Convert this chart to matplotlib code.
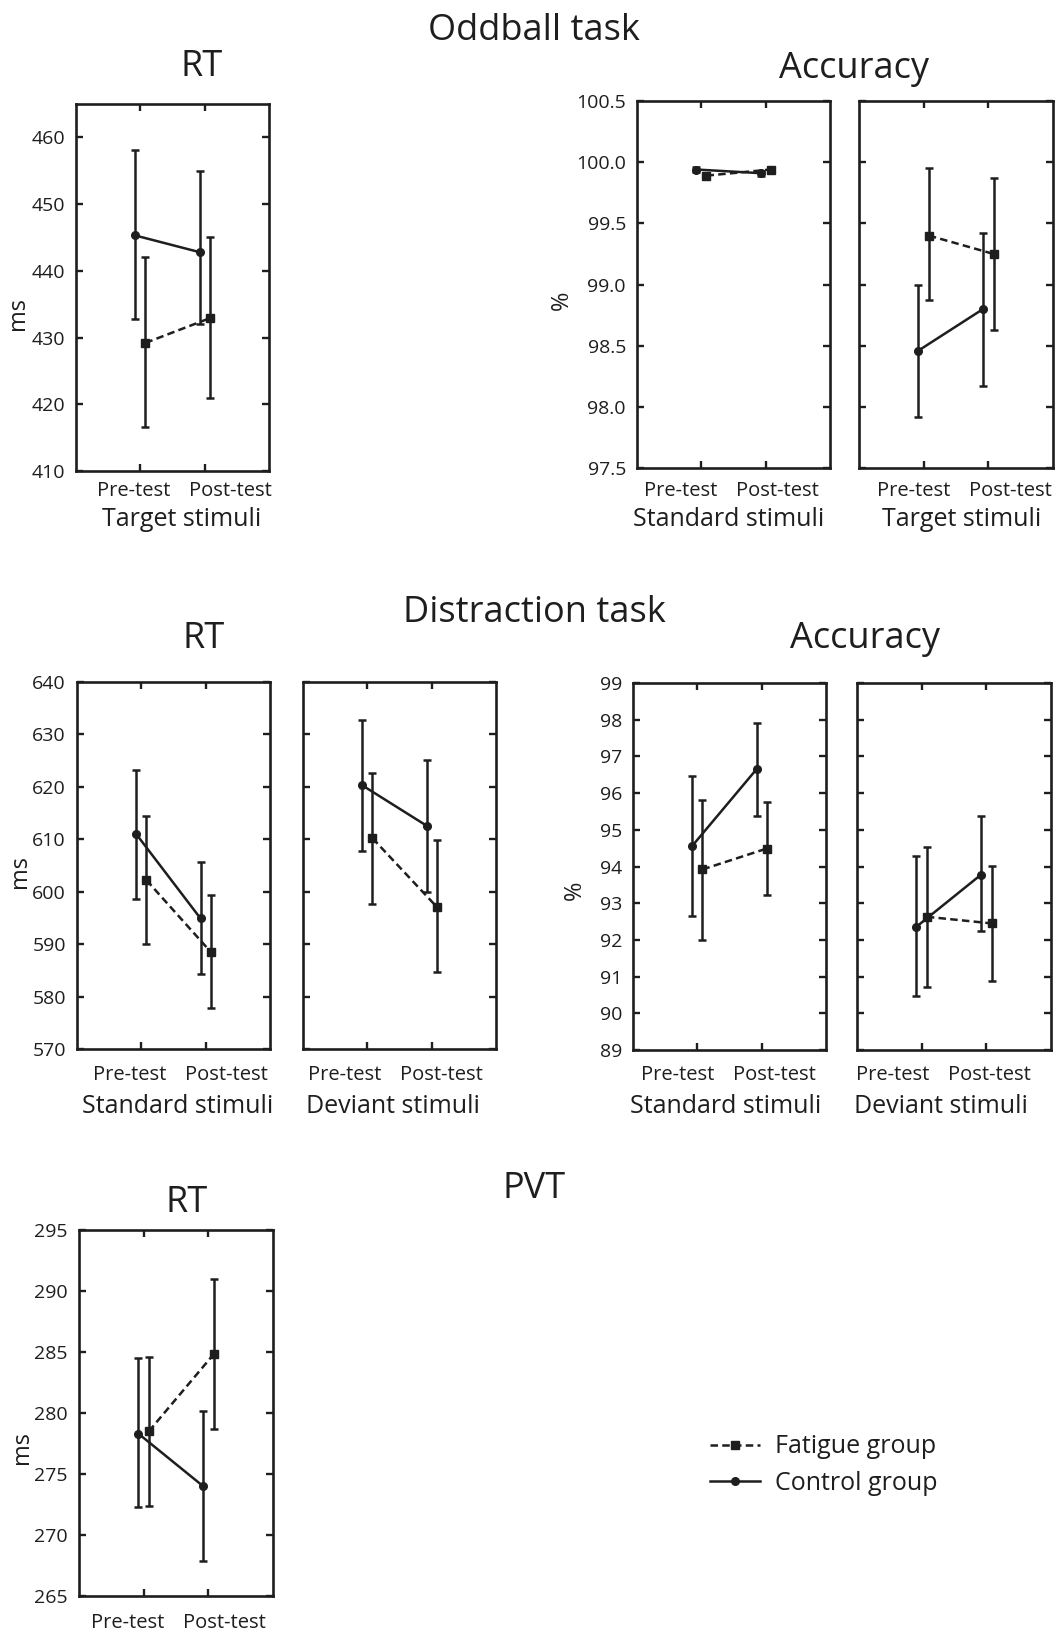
import numpy as np
import matplotlib.pyplot as plt
from matplotlib.lines import Line2D
from matplotlib.ticker import FormatStrFormatter

plt.rcParams['font.family'] = ['Open Sans', 'DejaVu Sans']

phases = ['Pre-test', 'Post-test']

# Oddball task - RT, target stimuli
odd_rt_fat = [429.2, 432.9]
odd_rt_fat_lo = [416.6, 421.0]
odd_rt_fat_hi = [442.1, 445.0]
odd_rt_con = [445.3, 442.8]
odd_rt_con_lo = [432.8, 432.0]
odd_rt_con_hi = [458.1, 454.9]

# Oddball task - accuracy, standard stimuli
odd_acc_std_fat = [99.89, 99.94]
odd_acc_std_fat_lo = [99.87, 99.92]
odd_acc_std_fat_hi = [99.91, 99.96]
odd_acc_std_con = [99.94, 99.91]
odd_acc_std_con_lo = [99.92, 99.89]
odd_acc_std_con_hi = [99.96, 99.93]

# Oddball task - accuracy, target stimuli
odd_acc_tgt_fat = [99.40, 99.25]
odd_acc_tgt_fat_lo = [98.87, 98.63]
odd_acc_tgt_fat_hi = [99.95, 99.87]
odd_acc_tgt_con = [98.46, 98.80]
odd_acc_tgt_con_lo = [97.92, 98.17]
odd_acc_tgt_con_hi = [99.00, 99.42]

# Distraction task - RT, standard stimuli
dis_rt_std_fat = [602.2, 588.5]
dis_rt_std_fat_lo = [590.0, 577.9]
dis_rt_std_fat_hi = [614.5, 599.3]
dis_rt_std_con = [611.0, 594.9]
dis_rt_std_con_lo = [598.6, 584.4]
dis_rt_std_con_hi = [623.3, 605.6]

# Distraction task - RT, deviant stimuli
dis_rt_dev_fat = [610.2, 597.1]
dis_rt_dev_fat_lo = [597.7, 584.6]
dis_rt_dev_fat_hi = [622.7, 609.8]
dis_rt_dev_con = [620.3, 612.6]
dis_rt_dev_con_lo = [607.8, 599.9]
dis_rt_dev_con_hi = [632.7, 625.2]

# Distraction task - accuracy, standard stimuli
dis_acc_std_fat = [93.92, 94.49]
dis_acc_std_fat_lo = [92.01, 93.22]
dis_acc_std_fat_hi = [95.82, 95.76]
dis_acc_std_con = [94.56, 96.65]
dis_acc_std_con_lo = [92.66, 95.38]
dis_acc_std_con_hi = [96.46, 97.92]

# Distraction task - accuracy, deviant stimuli
dis_acc_dev_fat = [92.63, 92.45]
dis_acc_dev_fat_lo = [90.71, 90.89]
dis_acc_dev_fat_hi = [94.52, 94.01]
dis_acc_dev_con = [92.36, 93.78]
dis_acc_dev_con_lo = [90.47, 92.24]
dis_acc_dev_con_hi = [94.28, 95.37]

# PVT - RT
pvt_fat = [278.5, 284.8]
pvt_fat_lo = [272.4, 278.7]
pvt_fat_hi = [284.6, 291.0]
pvt_con = [278.3, 274.0]
pvt_con_lo = [272.3, 267.9]
pvt_con_hi = [284.5, 280.2]

W, H = 1058, 1634
ink = '#1e1e1e'
dash = (0, (3, 1.7))

fig = plt.figure(figsize=(W / 100, H / 100), dpi=100)


def box(l, r, t, b):
    return [l / W, 1 - b / H, (r - l) / W, (b - t) / H]


def ftext(px, py, s, **kw):
    # text placed in figure pixel coords (from top-left)
    return fig.text(px / W, 1 - py / H, s, color=ink, **kw)


def panel(pos, fat, fat_lo, fat_hi, con, con_lo, con_hi, ylim, yticks,
          lab_cx, tick_y, xlabel=None, xlab_y=None, show_y=True, fmt=None):
    ax = fig.add_axes(box(*pos))
    x = np.array([1, 2])
    fat, con = np.array(fat), np.array(con)
    ax.errorbar(x - 0.08, con, yerr=[con - np.array(con_lo), np.array(con_hi) - con],
                color=ink, lw=1.8, marker='o', ms=5.5, capsize=3, capthick=1.8,
                elinewidth=1.8, ls='-')
    ax.errorbar(x + 0.08, fat, yerr=[fat - np.array(fat_lo), np.array(fat_hi) - fat],
                color=ink, lw=1.8, marker='s', ms=5.5, capsize=3, capthick=1.8,
                elinewidth=1.8, ls=dash)
    ax.set_xlim(0, 3)
    ax.set_ylim(*ylim)
    ax.set_xticks(x)
    ax.set_yticks(yticks)
    if fmt:
        ax.yaxis.set_major_formatter(FormatStrFormatter(fmt))
    ax.tick_params(direction='in', length=5, width=1.7, top=True, right=True,
                   labelsize=14, colors=ink, pad=8, labelbottom=False)
    if not show_y:
        ax.tick_params(labelleft=False)
    for s in ax.spines.values():
        s.set_linewidth(1.9)
        s.set_color(ink)
    # category labels sit as a pair under the panel
    ftext(lab_cx - 48, tick_y, phases[0], fontsize=14.5, ha='center', va='baseline')
    ftext(lab_cx + 48, tick_y, phases[1], fontsize=14.5, ha='center', va='baseline')
    if xlabel:
        ftext(lab_cx, xlab_y, xlabel, fontsize=18, ha='center', va='baseline')
    return ax


panel((76, 269, 104, 471), odd_rt_fat, odd_rt_fat_lo, odd_rt_fat_hi,
      odd_rt_con, odd_rt_con_lo, odd_rt_con_hi, (410, 465), range(410, 461, 10),
      182, 496, 'Target stimuli', 526)
panel((637, 830, 101, 468), odd_acc_std_fat, odd_acc_std_fat_lo, odd_acc_std_fat_hi,
      odd_acc_std_con, odd_acc_std_con_lo, odd_acc_std_con_hi, (97.5, 100.5),
      np.arange(97.5, 100.51, 0.5), 729, 496, 'Standard stimuli', 526, fmt='%.1f')
panel((859, 1053, 101, 468), odd_acc_tgt_fat, odd_acc_tgt_fat_lo, odd_acc_tgt_fat_hi,
      odd_acc_tgt_con, odd_acc_tgt_con_lo, odd_acc_tgt_con_hi, (97.5, 100.5),
      np.arange(97.5, 100.51, 0.5), 962, 496, 'Target stimuli', 526, show_y=False)

panel((77, 270, 682, 1049), dis_rt_std_fat, dis_rt_std_fat_lo, dis_rt_std_fat_hi,
      dis_rt_std_con, dis_rt_std_con_lo, dis_rt_std_con_hi, (570, 640),
      range(570, 641, 10), 178, 1080, 'Standard stimuli', 1113)
panel((303, 496, 682, 1049), dis_rt_dev_fat, dis_rt_dev_fat_lo, dis_rt_dev_fat_hi,
      dis_rt_dev_con, dis_rt_dev_con_lo, dis_rt_dev_con_hi, (570, 640),
      range(570, 641, 10), 393, 1080, 'Deviant stimuli', 1113, show_y=False)
panel((633, 826, 683, 1050), dis_acc_std_fat, dis_acc_std_fat_lo, dis_acc_std_fat_hi,
      dis_acc_std_con, dis_acc_std_con_lo, dis_acc_std_con_hi, (89, 99),
      range(89, 100), 726, 1080, 'Standard stimuli', 1113)
panel((857, 1051, 683, 1050), dis_acc_dev_fat, dis_acc_dev_fat_lo, dis_acc_dev_fat_hi,
      dis_acc_dev_con, dis_acc_dev_con_lo, dis_acc_dev_con_hi, (89, 99),
      range(89, 100), 941, 1080, 'Deviant stimuli', 1113, show_y=False)

panel((79, 273, 1230, 1596), pvt_fat, pvt_fat_lo, pvt_fat_hi,
      pvt_con, pvt_con_lo, pvt_con_hi, (265, 295), range(265, 296, 5),
      176, 1628)

# y axis labels
for s, px, py in [('ms', 18, 313), ('%', 562, 300), ('ms', 20, 872),
                  ('%', 575, 890), ('ms', 22, 1447)]:
    ftext(px, py, s, fontsize=17, rotation=90, ha='center', va='center')

# section and column titles (baseline positions)
titles = [('Oddball task', 534, 40), ('RT', 202, 76), ('Accuracy', 854, 78),
          ('Distraction task', 534, 622), ('RT', 204, 648), ('Accuracy', 865, 648),
          ('PVT', 534, 1198), ('RT', 187, 1212)]
for t, px, py in titles:
    ftext(px, py, t, fontsize=26, ha='center', va='baseline')

handles = [Line2D([], [], color=ink, lw=1.8, ls=dash, marker='s', ms=5.5),
           Line2D([], [], color=ink, lw=1.8, ls='-', marker='o', ms=5.5)]
fig.legend(handles, ['Fatigue group', 'Control group'], loc='center left',
           bbox_to_anchor=(710 / W, 1 - 1465 / H), frameon=False, fontsize=18,
           handlelength=2.0, handletextpad=0.6, labelspacing=0.45, labelcolor=ink,
           borderpad=0, borderaxespad=0)

fig.savefig('out.png', dpi=100)
